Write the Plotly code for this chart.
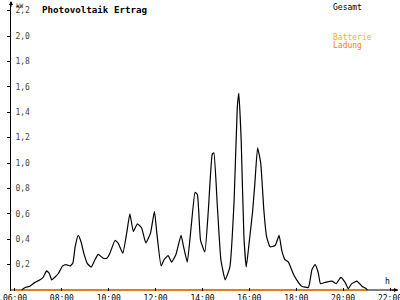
import plotly.graph_objects as go

# ---- data ----
times = ["06:17","06:26","06:38","06:51","07:04","07:12","07:21","07:28","07:34","07:42",
         "07:51","08:02","08:11","08:21","08:28","08:34","08:42","08:49","08:57","09:05",
         "09:15","09:25","09:33","09:46","09:55","10:03","10:16","10:24","10:36","10:46",
         "10:54","11:03","11:13","11:24","11:35","11:47","11:57","12:03","12:14","12:22",
         "12:32","12:41","12:52","13:05","13:11","13:21","13:31","13:41","13:47","13:55",
         "14:06","14:15","14:25","14:29","14:38","14:47","14:58","15:10","15:21","15:29",
         "15:33","15:39","15:46","15:52","16:00","16:08","16:14","16:21","16:29","16:37",
         "16:44","16:53","17:06","17:16","17:23","17:31","17:40","17:52","18:01","18:14",
         "18:31","18:40","18:48","18:56","19:02","19:14","19:31","19:42","19:54","20:05",
         "20:13","20:22","20:35","20:48","20:59","21:02"]
gesamt = [0.00,0.02,0.03,0.06,0.08,0.10,0.15,0.13,0.08,0.10,
          0.13,0.19,0.20,0.19,0.21,0.34,0.43,0.38,0.28,0.21,
          0.18,0.24,0.28,0.25,0.25,0.29,0.39,0.37,0.29,0.45,
          0.60,0.46,0.52,0.49,0.37,0.45,0.62,0.45,0.19,0.24,
          0.27,0.22,0.28,0.43,0.35,0.22,0.50,0.77,0.75,0.39,
          0.30,0.63,1.07,1.08,0.66,0.24,0.08,0.18,0.71,1.44,
          1.55,1.18,0.42,0.18,0.39,0.61,0.84,1.12,1.00,0.63,
          0.42,0.34,0.35,0.43,0.31,0.24,0.22,0.13,0.08,0.03,
          0.02,0.16,0.20,0.14,0.05,0.06,0.07,0.05,0.10,0.06,
          0.01,0.05,0.07,0.03,0.01,0.00]
ladung_times = ["05:50", "21:02"]
ladung = [0.0, 0.0]
batterie_times = []
batterie = []

y_ticks = [0.2, 0.4, 0.6, 0.8, 1.0, 1.2, 1.4, 1.6, 1.8, 2.0, 2.2]
y_ticktext = ["0,2", "0,4", "0,6", "0,8", "1,0", "1,2", "1,4", "1,6", "1,8", "2,0", "2,2"]
x_ticks = [6, 8, 10, 12, 14, 16, 18, 20, 22]
x_ticktext = ["06:00", "08:00", "10:00", "12:00", "14:00", "16:00", "18:00", "20:00", "22:00"]


def to_h(t):
    h, m = t.split(":")
    return int(h) + int(m) / 60.0


FONT = "DejaVu Sans Mono"

fig = go.Figure()
fig.add_trace(go.Scatter(x=[to_h(t) for t in ladung_times], y=ladung, mode="lines",
                         line=dict(color="#FF8000", width=1.5),
                         name="Ladung", hoverinfo="skip"))
fig.add_trace(go.Scatter(x=[to_h(t) for t in batterie_times], y=batterie, mode="lines",
                         line=dict(color="#FFB000", width=1), name="Batterie"))
fig.add_trace(go.Scatter(x=[to_h(t) for t in times], y=gesamt, mode="lines",
                         line=dict(color="black", width=1.2, shape="spline", smoothing=0.4),
                         name="Gesamt"))

fig.update_layout(
    width=400, height=300,
    margin=dict(l=11, r=2, t=2, b=9),
    paper_bgcolor="white", plot_bgcolor="white",
    showlegend=False,
    font=dict(family=FONT, size=8, color="black"),
)
fig.update_xaxes(range=[5.83, 22.34], showgrid=False, zeroline=False, automargin=False,
                 showline=False, tickvals=x_ticks, ticktext=x_ticktext,
                 ticks="inside", ticklen=3, tickcolor="black", tickwidth=1,
                 ticklabeloverflow="allow", ticklabelstandoff=1,
                 tickfont=dict(family=FONT, size=8))
fig.update_yaxes(range=[-0.0079, 2.268], showgrid=False, zeroline=False, automargin=False,
                 showline=True, linecolor="black", linewidth=1,
                 tickvals=y_ticks, ticktext=y_ticktext,
                 ticks="outside", ticklen=3, tickcolor="black", tickwidth=1,
                 ticklabelposition="inside", ticklabelstandoff=3,
                 ticklabeloverflow="allow",
                 tickfont=dict(family=FONT, size=8))

# x axis line with arrow (decoration at the zero level)
fig.add_shape(type="line", xref="paper", yref="y", x0=0, x1=1, y0=0, y1=0,
              layer="below", line=dict(color="black", width=1))
fig.add_annotation(xref="paper", yref="y", x=1, y=0, ax=-8, ay=0, text="",
                   showarrow=True, arrowhead=2, arrowsize=0.8, arrowwidth=1, arrowcolor="black")
fig.add_annotation(xref="paper", yref="paper", x=0, y=1.005, ax=0, ay=8, text="",
                   showarrow=True, arrowhead=2, arrowsize=0.8, arrowwidth=1, arrowcolor="black")
fig.add_annotation(xref="paper", yref="paper", x=0.008, y=1.006, xanchor="left", yanchor="top",
                   text="kW", showarrow=False, font=dict(family=FONT, size=6))
fig.add_annotation(xref="paper", yref="paper", x=0.96, y=0.012, xanchor="left", yanchor="bottom",
                   text="h", showarrow=False, font=dict(family=FONT, size=8))

# title
fig.add_annotation(xref="paper", yref="paper", x=0.075, y=1.0, xanchor="left", yanchor="top",
                   text="<b>Photovoltaik Ertrag</b>", showarrow=False,
                   font=dict(family=FONT, size=9.2))

# legend labels
fig.add_annotation(xref="paper", yref="paper", x=0.826, y=1.005, xanchor="left", yanchor="top",
                   text="Gesamt", showarrow=False, font=dict(family=FONT, size=8, color="black"))
fig.add_annotation(xref="paper", yref="paper", x=0.826, y=0.9, xanchor="left", yanchor="top",
                   text="Batterie", showarrow=False, font=dict(family=FONT, size=8, color="#FFB000"))
fig.add_annotation(xref="paper", yref="paper", x=0.826, y=0.871, xanchor="left", yanchor="top",
                   text="Ladung", showarrow=False, font=dict(family=FONT, size=8, color="#FF8000"))

fig.write_html("out.html")
